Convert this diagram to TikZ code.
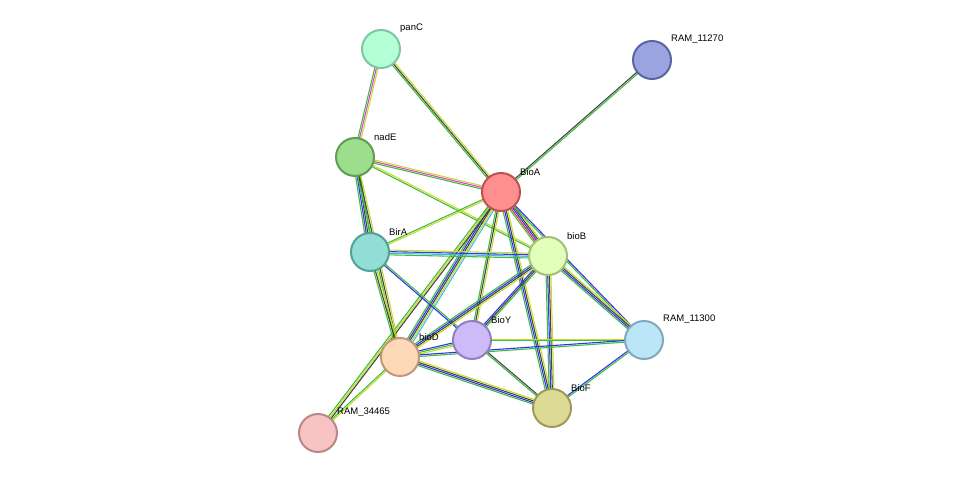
\documentclass[tikz,border=0pt]{standalone}
\usepackage{fontspec}
\setmainfont{Liberation Sans}
\usetikzlibrary{calc}
\definecolor{egreen}{HTML}{3DBE3D}
\definecolor{eyellow}{HTML}{C8DA2B}
\definecolor{eblue}{HTML}{3333EE}
\definecolor{ecyan}{HTML}{40C0E0}
\definecolor{emag}{HTML}{E040E0}
\definecolor{ered}{HTML}{EE3333}
\definecolor{eblack}{HTML}{444444}
\tikzset{
  prot/.style={circle, minimum size=38pt, inner sep=0pt, line width=2pt},
  lab/.style={font=\fontsize{9.5}{10}\selectfont, anchor=south west, inner sep=0pt},
  ln/.style={line width=1.1pt}
}
% edge: two nodes, list of colours
\newcommand{\sedge}[3]{%
  \foreach \c [count=\i] in {#3} {\xdef\nlines{\i}}
  \foreach \c [count=\i] in {#3} {
    \pgfmathsetmacro{\off}{(\i-(\nlines+1)/2)*1.6}
    \draw[ln, \c] ($(#1)!\off pt!90:(#2)$) -- ($(#2)!\off pt!-90:(#1)$);
  }
}
\begin{document}
\begin{tikzpicture}[x=1pt, y=-1pt]
\useasboundingbox (0,0) rectangle (976,479);
\coordinate (panC) at (381,49);
\coordinate (r270) at (652,60);
\coordinate (nadE) at (355,157);
\coordinate (bioA) at (501,192);
\coordinate (birA) at (370,252);
\coordinate (bioB) at (548,256);
\coordinate (r300) at (644,340);
\coordinate (bioY) at (472,340);
\coordinate (bioD) at (400,357);
\coordinate (bioF) at (552,408);
\coordinate (r465) at (318,433);

\sedge{panC}{nadE}{egreen,emag,eyellow}
\sedge{panC}{bioA}{egreen,eblack,eyellow}
\sedge{r270}{bioA}{eblack,egreen}
\sedge{nadE}{bioA}{egreen,emag,eyellow}
\sedge{nadE}{bioB}{egreen,eyellow}
\sedge{nadE}{birA}{egreen,eblue,eblack,egreen}
\sedge{nadE}{bioD}{egreen,eblack,eyellow}
\sedge{bioA}{birA}{egreen,eyellow}
\sedge{bioA}{bioB}{egreen,ered,eblue,eblack,eyellow}
\sedge{bioA}{bioY}{egreen,eblack,eyellow}
\sedge{bioA}{bioD}{egreen,eblue,eblack,eyellow,ecyan}
\sedge{bioA}{bioF}{egreen,eblue,eblack,eyellow}
\sedge{bioA}{r300}{egreen,eblue}
\sedge{bioA}{r465}{egreen,eyellow,eblack}
\sedge{birA}{bioB}{egreen,ecyan,eblue,eyellow}
\sedge{birA}{bioY}{eblue,egreen}
\sedge{birA}{bioD}{egreen,eblack,eyellow}
\sedge{bioB}{bioY}{eblue,eblack,egreen}
\sedge{bioB}{bioD}{egreen,eblue,eblack,eyellow}
\sedge{bioB}{bioF}{egreen,eblue,eblack,eyellow}
\sedge{bioB}{r300}{egreen,eblue,eblack,eyellow}
\sedge{bioY}{bioD}{eblue,egreen,eyellow}
\sedge{bioY}{bioF}{egreen,eblack}
\sedge{bioY}{r300}{egreen,eyellow}
\sedge{bioD}{bioF}{egreen,eblue,eblack,eyellow}
\sedge{bioD}{r300}{egreen,eblue}
\sedge{bioD}{r465}{egreen,eyellow}
\sedge{bioF}{r300}{egreen,eblue}

\node[prot, fill={rgb,255:red,179;green,255;blue,214}, draw={rgb,255:red,127;green,197;blue,159}] (n1) at (panC) {};
\node[prot, fill={rgb,255:red,154;green,164;blue,224}, draw={rgb,255:red,90;green,100;blue,160}] (n2) at (r270) {};
\node[prot, fill={rgb,255:red,157;green,222;blue,141}, draw={rgb,255:red,94;green,158;blue,80}] (n3) at (nadE) {};
\node[prot, fill={rgb,255:red,255;green,143;blue,143}, draw={rgb,255:red,192;green,80;blue,80}] (n4) at (bioA) {};
\node[prot, fill={rgb,255:red,146;green,222;blue,214}, draw={rgb,255:red,82;green,160;blue,150}] (n5) at (birA) {};
\node[prot, fill={rgb,255:red,226;green,255;blue,185}, draw={rgb,255:red,160;green,192;blue,120}] (n6) at (bioB) {};
\node[prot, fill={rgb,255:red,189;green,229;blue,248}, draw={rgb,255:red,128;green,168;blue,192}] (n7) at (r300) {};
\node[prot, fill={rgb,255:red,204;green,187;blue,248}, draw={rgb,255:red,144;green,128;blue,192}] (n8) at (bioY) {};
\node[prot, fill={rgb,255:red,253;green,217;blue,185}, draw={rgb,255:red,192;green,152;blue,120}] (n9) at (bioD) {};
\node[prot, fill={rgb,255:red,221;green,218;blue,149}, draw={rgb,255:red,158;green,154;blue,85}] (n10) at (bioF) {};
\node[prot, fill={rgb,255:red,247;green,195;blue,195}, draw={rgb,255:red,184;green,136;blue,136}] (n11) at (r465) {};

\node[lab] (l1) at (400,33) {panC};
\node[lab] (l2) at (671,44) {RAM\_11270};
\node[lab] (l3) at (374,141) {nadE};
\node[lab] (l4) at (520,176) {BioA};
\node[lab] (l5) at (389,236) {BirA};
\node[lab] (l6) at (567,240) {bioB};
\node[lab] (l7) at (663,324) {RAM\_11300};
\node[lab] (l8) at (491,324) {BioY};
\node[lab] (l9) at (419,341) {bioD};
\node[lab] (l10) at (571,392) {BioF};
\node[lab] (l11) at (337,417) {RAM\_34465};
\end{tikzpicture}
\end{document}
